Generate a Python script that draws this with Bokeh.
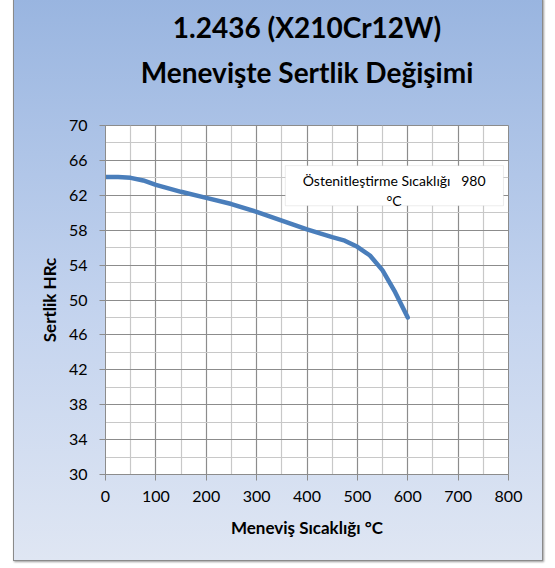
from bokeh.plotting import figure
from bokeh.models import FixedTicker, Range1d, Title, Label, BoxAnnotation
from bokeh.embed import file_html
from bokeh.resources import INLINE

# data
temps = [0, 25, 50, 75, 100, 150, 200, 250, 300, 350, 400, 450, 475, 500, 525, 550, 575, 600]
hrc = [64.1, 64.1, 64.0, 63.7, 63.2, 62.4, 61.7, 61.0, 60.1, 59.1, 58.1, 57.2, 56.8, 56.1,
       55.1, 53.4, 50.9, 48.0]

x_ticks = [0, 100, 200, 300, 400, 500, 600, 700, 800]
x_minor = [50, 150, 250, 350, 450, 550, 650, 750]
y_ticks = [30, 34, 38, 42, 46, 50, 54, 58, 62, 66, 70]
y_minor = [32, 36, 40, 44, 48, 52, 56, 60, 64, 68]

title_lines = ["1.2436 (X210Cr12W)", "Menevişte Sertlik Değişimi"]
x_label = "Meneviş Sıcaklığı °C"
y_label = "Sertlik HRc"
note_text = "Östenitleştirme Sıcaklığı\u00a0\u00a0\u00a0980\n°C"

FONT = "Lato"

p = figure(width=530, height=563, output_backend="svg", toolbar_location=None,
           x_range=Range1d(0, 800), y_range=Range1d(30, 70),
           min_border_left=91, min_border_right=36, min_border_top=126, min_border_bottom=88)

p.styles = {"background-image": "linear-gradient(to bottom, #99b5e0 0%, #c3d3ee 55%, #dfe6f3 100%)",
            "margin-left": "13px", "margin-top": "-2px",
            "border": "1px solid #8a8a8a", "box-shadow": "1px 1px 2px #9a9a9a"}
p.border_fill_alpha = 0
p.background_fill_color = "white"
p.outline_line_color = "#8c8c8c"

# titles, stacked upward from the frame: blank spacer, line 2, line 1
p.add_layout(Title(text="\u00a0", text_font=FONT, text_font_size="10px", standoff=18,
                   text_line_height=0.9), "above")
p.add_layout(Title(text=title_lines[1], align="center", text_font=FONT, text_font_size="28px",
                   text_font_style="bold", text_color="black", standoff=9,
                   text_line_height=0.9), "above")
p.add_layout(Title(text=title_lines[0], align="center", text_font=FONT, text_font_size="28px",
                   text_font_style="bold", text_color="black", standoff=9,
                   text_line_height=0.9), "above")

p.xaxis.ticker = FixedTicker(ticks=x_ticks, minor_ticks=x_minor)
p.yaxis.ticker = FixedTicker(ticks=y_ticks, minor_ticks=y_minor)

for ax in (p.xaxis[0], p.yaxis[0]):
    ax.axis_line_color = "#8c8c8c"
    ax.major_tick_line_color = "#8c8c8c"
    ax.major_tick_out = 6
    ax.major_tick_in = 0
    ax.minor_tick_line_color = None
    ax.major_label_text_font = FONT
    ax.major_label_text_font_size = "16px"
    ax.major_label_text_color = "black"
    ax.axis_label_text_font = FONT
    ax.axis_label_text_font_size = "17px"
    ax.axis_label_text_font_style = "bold"
    ax.axis_label_text_color = "black"

p.xaxis.axis_label = x_label
p.yaxis.axis_label = y_label
p.xaxis.major_label_standoff = 10
p.xaxis.axis_label_standoff = 12
p.yaxis.major_label_standoff = 12
p.yaxis.axis_label_standoff = 6

p.xgrid.grid_line_color = "#8c8c8c"
p.ygrid.grid_line_color = "#8c8c8c"
p.xgrid.minor_grid_line_color = "#c8c8c8"
p.ygrid.minor_grid_line_color = "#c8c8c8"
p.xgrid.grid_line_width = 1.2
p.ygrid.grid_line_width = 1.2
p.xgrid.minor_grid_line_width = 1.2
p.ygrid.minor_grid_line_width = 1.2

p.line(temps, hrc, line_color="#4a7ebb", line_width=4.5, line_join="round", line_cap="round")

# annotation box
p.add_layout(BoxAnnotation(left=357, right=790, top=65.4, bottom=60.8, fill_color="white",
                           fill_alpha=1, line_color="#bfbfbf", line_width=1, level="overlay"))
p.add_layout(Label(x=573, y=62.55, text=note_text, text_align="center", text_baseline="middle",
                   text_font=FONT, text_font_size="14px", text_color="black", level="overlay"))

open("out.html", "w").write(file_html(p, INLINE))
